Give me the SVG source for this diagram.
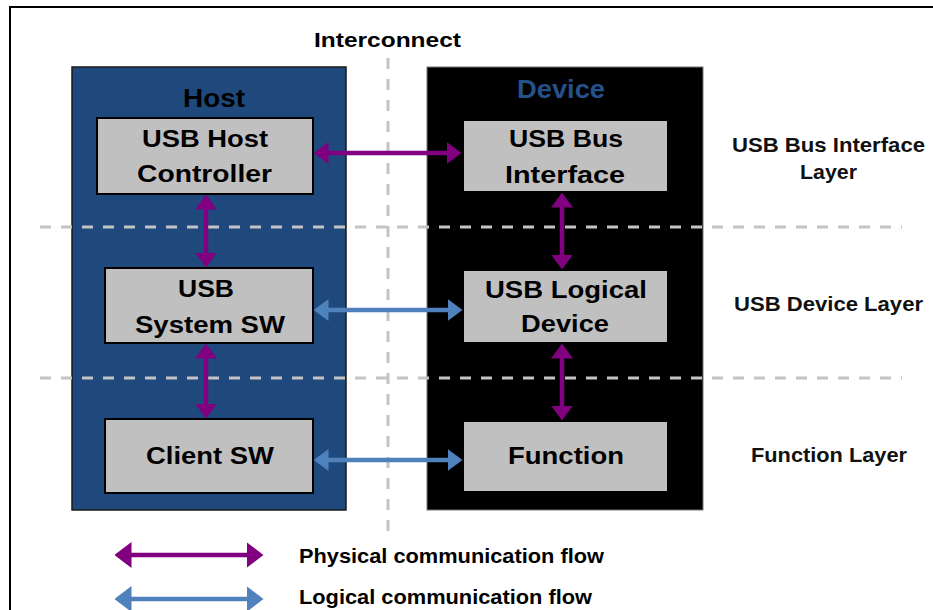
<svg xmlns="http://www.w3.org/2000/svg" width="933" height="610" viewBox="0 0 933 610">
<style>
text{font-family:"Liberation Sans",Arial,sans-serif;font-weight:bold;fill:#000}
.bx{fill:#c0c0c0;stroke:#000;stroke-width:2}
.bt{font-size:23.5px}
.lbl{font-size:20.5px;fill:#111}
.dash{stroke:#c4c4c4;stroke-width:3;stroke-dasharray:11 10;fill:none}
.ph{stroke:#800080;stroke-width:4.5;fill:none}
.lg{stroke:#4f81bd;stroke-width:4.5;fill:none}
</style>
<defs>
<marker id="hp" viewBox="0 0 15 22" markerWidth="15" markerHeight="22" refX="0.5" refY="11" markerUnits="userSpaceOnUse" orient="auto-start-reverse"><path d="M0,0L15,11L0,22z" fill="#800080"/></marker>
<marker id="hb" viewBox="0 0 15 22" markerWidth="15" markerHeight="22" refX="0.5" refY="11" markerUnits="userSpaceOnUse" orient="auto-start-reverse"><path d="M0,0L15,11L0,22z" fill="#4f81bd"/></marker>
<marker id="hpL" viewBox="0 0 17 26" markerWidth="17" markerHeight="26" refX="0.5" refY="13" markerUnits="userSpaceOnUse" orient="auto-start-reverse"><path d="M0,0L17,13L0,26z" fill="#800080"/></marker>
<marker id="hbL" viewBox="0 0 17 26" markerWidth="17" markerHeight="26" refX="0.5" refY="13" markerUnits="userSpaceOnUse" orient="auto-start-reverse"><path d="M0,0L17,13L0,26z" fill="#4f81bd"/></marker>
</defs>
<rect width="933" height="610" fill="#fff"/>
<polyline points="10,610 10,7 933,7" fill="none" stroke="#000" stroke-width="2"/>

<g id="interconnect">
<line class="dash" x1="388" y1="58" x2="388" y2="533"/>
<text x="314" y="47" font-size="20.5" textLength="147" lengthAdjust="spacingAndGlyphs">Interconnect</text>
</g>

<g id="host">
<rect x="72" y="67" width="274" height="443" fill="#1f497d" stroke="#1a1a1a" stroke-width="1.5"/>
<text x="183" y="107" font-size="26" fill="#0d0d0d" textLength="62" lengthAdjust="spacingAndGlyphs">Host</text>
</g>
<g id="device">
<rect x="427" y="67" width="276" height="443" fill="#000" stroke="#777" stroke-width="1"/>
<text x="517" y="98" font-size="25" style="fill:#24518a" textLength="88" lengthAdjust="spacingAndGlyphs">Device</text>
</g>

<g id="layers">
<line class="dash" x1="40" y1="227" x2="902" y2="227"/>
<line class="dash" x1="40" y1="378" x2="902" y2="378"/>
</g>

<g id="usb-host-controller">
<rect class="bx" x="97" y="118" width="216" height="76"/>
<text class="bt" x="142" y="147" textLength="126" lengthAdjust="spacingAndGlyphs">USB Host</text>
<text class="bt" x="137" y="182" textLength="135" lengthAdjust="spacingAndGlyphs">Controller</text>
</g>
<g id="usb-system-sw">
<rect class="bx" x="105" y="268" width="208" height="75"/>
<text class="bt" x="178" y="297" textLength="56" lengthAdjust="spacingAndGlyphs">USB</text>
<text class="bt" x="135" y="333" textLength="150" lengthAdjust="spacingAndGlyphs">System SW</text>
</g>
<g id="client-sw">
<rect class="bx" x="105" y="419" width="208" height="74"/>
<text class="bt" x="146" y="464" textLength="128" lengthAdjust="spacingAndGlyphs">Client SW</text>
</g>
<g id="usb-bus-interface">
<rect class="bx" x="463" y="120" width="205" height="72"/>
<text class="bt" x="509" y="147" textLength="114" lengthAdjust="spacingAndGlyphs">USB Bus</text>
<text class="bt" x="505" y="183" textLength="120" lengthAdjust="spacingAndGlyphs">Interface</text>
</g>
<g id="usb-logical-device">
<rect class="bx" x="463" y="270" width="205" height="73"/>
<text class="bt" x="485" y="298" textLength="162" lengthAdjust="spacingAndGlyphs">USB Logical</text>
<text class="bt" x="521" y="332" textLength="88" lengthAdjust="spacingAndGlyphs">Device</text>
</g>
<g id="function">
<rect class="bx" x="463" y="421" width="205" height="71"/>
<text class="bt" x="508" y="464" textLength="116" lengthAdjust="spacingAndGlyphs">Function</text>
</g>

<g id="layer-labels">
<text class="lbl" x="732" y="152" textLength="193" lengthAdjust="spacingAndGlyphs">USB Bus Interface</text>
<text class="lbl" x="800" y="179" textLength="57" lengthAdjust="spacingAndGlyphs">Layer</text>
<text class="lbl" x="734" y="311" textLength="189" lengthAdjust="spacingAndGlyphs">USB Device Layer</text>
<text class="lbl" x="751" y="462" textLength="156" lengthAdjust="spacingAndGlyphs">Function Layer</text>
</g>

<g id="connectors">
<line class="ph" x1="328" y1="153" x2="447" y2="153" marker-start="url(#hp)" marker-end="url(#hp)"/>
<line class="ph" x1="206" y1="209" x2="206" y2="253" marker-start="url(#hp)" marker-end="url(#hp)"/>
<line class="ph" x1="562" y1="207" x2="562" y2="255" marker-start="url(#hp)" marker-end="url(#hp)"/>
<line class="lg" x1="328" y1="310" x2="448" y2="310" marker-start="url(#hb)" marker-end="url(#hb)"/>
<line class="ph" x1="206" y1="358" x2="206" y2="404" marker-start="url(#hp)" marker-end="url(#hp)"/>
<line class="ph" x1="562" y1="358" x2="562" y2="406" marker-start="url(#hp)" marker-end="url(#hp)"/>
<line class="lg" x1="328" y1="460" x2="448" y2="460" marker-start="url(#hb)" marker-end="url(#hb)"/>
</g>

<g id="legend">
<line class="ph" x1="131" y1="555" x2="247" y2="555" marker-start="url(#hpL)" marker-end="url(#hpL)"/>
<line class="lg" x1="131" y1="599" x2="247" y2="599" marker-start="url(#hbL)" marker-end="url(#hbL)"/>
<text x="299" y="563" font-size="21" fill="#111" textLength="305" lengthAdjust="spacingAndGlyphs">Physical communication flow</text>
<text x="299" y="604" font-size="21" fill="#111" textLength="293" lengthAdjust="spacingAndGlyphs">Logical communication flow</text>
</g>
</svg>
